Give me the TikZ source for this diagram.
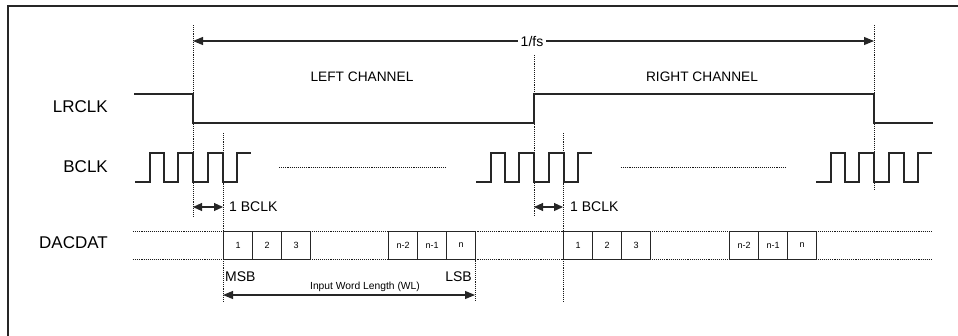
\documentclass[tikz,border=0pt]{standalone}
\usepackage{fontspec}
\setmainfont{Liberation Sans}
\usetikzlibrary{arrows.meta}
\begin{document}
\begin{tikzpicture}[x=1pt,y=-1pt,
  sig/.style={line width=1.1pt, line join=miter, black!85},
  dotln/.style={line width=1pt, dash pattern=on 1.1pt off 1pt, black!90},
  frame/.style={line width=1.6pt, black!85},
  bitbox/.style={draw=black!85, line width=1.1pt, minimum width=29pt, minimum height=28pt, inner sep=0pt, anchor=north west, font=\fontsize{9}{10}\selectfont},
  lbl/.style={font=\fontsize{17}{20}\selectfont, anchor=east, inner sep=0pt},
  chan/.style={font=\fontsize{13.7}{16}\selectfont, inner sep=0pt},
  small/.style={font=\fontsize{14}{16}\selectfont, inner sep=0pt},
  tiny/.style={font=\fontsize{10.3}{12}\selectfont, inner sep=0pt},
  bigdim/.style={line width=1.1pt, black!85, {Triangle[length=10pt,width=8pt]}-{Triangle[length=10pt,width=8pt]}},
  smalldim/.style={line width=1.1pt, black!85, {Triangle[length=9pt,width=8pt]}-{Triangle[length=9pt,width=8pt]}},
]
\useasboundingbox (0,0) rectangle (958,335);
% frame
\draw[frame] (8,340) -- (8,6) -- (962,6);

% key time coordinates
\coordinate (L0) at (193,0);
\coordinate (L1) at (223,0);
\coordinate (LE) at (475,0);
\coordinate (R0) at (534,0);
\coordinate (R1) at (563,0);
\coordinate (E0) at (874,0);

% dotted verticals
\draw[dotln] (L0 |- 0,25) -- (L0 |- 0,218);
\draw[dotln] (L1 |- 0,133) -- (L1 |- 0,302);
\draw[dotln] (LE |- 0,231) -- (LE |- 0,302);
\draw[dotln] (R0 |- 0,55) -- (R0 |- 0,215);
\draw[dotln] (R1 |- 0,133) -- (R1 |- 0,302);
\draw[dotln] (E0 |- 0,25) -- (E0 |- 0,190);

% 1/fs arrow
\coordinate (fsA) at (193,41);
\coordinate (fsB) at (874,41);
\draw[bigdim] (fsA) -- (fsB);
\node[small, fill=white, inner xsep=2.5pt, inner ysep=1pt] (fs) at (532,41) {1/fs};

% labels
\node[lbl] (lrclk) at (108,107) {LRCLK};
\node[lbl] (bclk) at (108,167) {BCLK};
\node[lbl] (dacdat) at (108,243) {DACDAT};
\node[chan] (lch) at (362,77) {LEFT CHANNEL};
\node[chan] (rch) at (702,77) {RIGHT CHANNEL};

% LRCLK waveform
\draw[sig] (134,94) -- (193,94) -- (193,123) -- (534,123) -- (534,94) -- (874,94) -- (874,123) -- (933,123);

% BCLK waveforms
\foreach \s in {0,341,681}{
  \begin{scope}[xshift=\s pt]
  \draw[sig] (135,182) -- (150,182) -- (150,153) -- (164,153) -- (164,182) -- (178,182) -- (178,153) -- (193,153) -- (193,182) -- (208,182) -- (208,153) -- (223,153) -- (223,182) -- (237,182) -- (237,153) -- (251,153);
  \end{scope}
}
\draw[dotln] (279,167) -- (445,167);
\draw[dotln] (621,167) -- (785,167);

% 1 BCLK
\coordinate (b1a) at (193,207);
\coordinate (b1b) at (223,207);
\coordinate (b2a) at (534,207);
\coordinate (b2b) at (563,207);
\draw[smalldim] (b1a) -- (b1b);
\draw[smalldim] (b2a) -- (b2b);
\node[small, anchor=west] (bc1) at (229,207) {1 BCLK};
\node[small, anchor=west] (bc2) at (570,207) {1 BCLK};

% DACDAT
\draw[dotln] (133,231) -- (933,231);
\draw[dotln] (133,259) -- (933,259);
\node[bitbox] (a1) at (223,231) {1};
\node[bitbox] (a2) at (252,231) {2};
\node[bitbox] (a3) at (281,231) {3};
\node[bitbox] (a4) at (388,231) {n-2};
\node[bitbox] (a5) at (417,231) {n-1};
\node[bitbox] (a6) at (446,231) {n};
\node[bitbox] (c1) at (563,231) {1};
\node[bitbox] (c2) at (592,231) {2};
\node[bitbox] (c3) at (621,231) {3};
\node[bitbox] (c4) at (729,231) {n-2};
\node[bitbox] (c5) at (758,231) {n-1};
\node[bitbox] (c6) at (787,231) {n};

\node[small, anchor=west] (msb) at (225,277) {MSB};
\node[small, anchor=east] (lsb) at (472,277) {LSB};
\node[tiny] (wl) at (365,287) {Input Word Length (WL)};
\coordinate (wla) at (223,295);
\coordinate (wlb) at (475,295);
\draw[bigdim] (wla) -- (wlb);
\end{tikzpicture}
\end{document}
